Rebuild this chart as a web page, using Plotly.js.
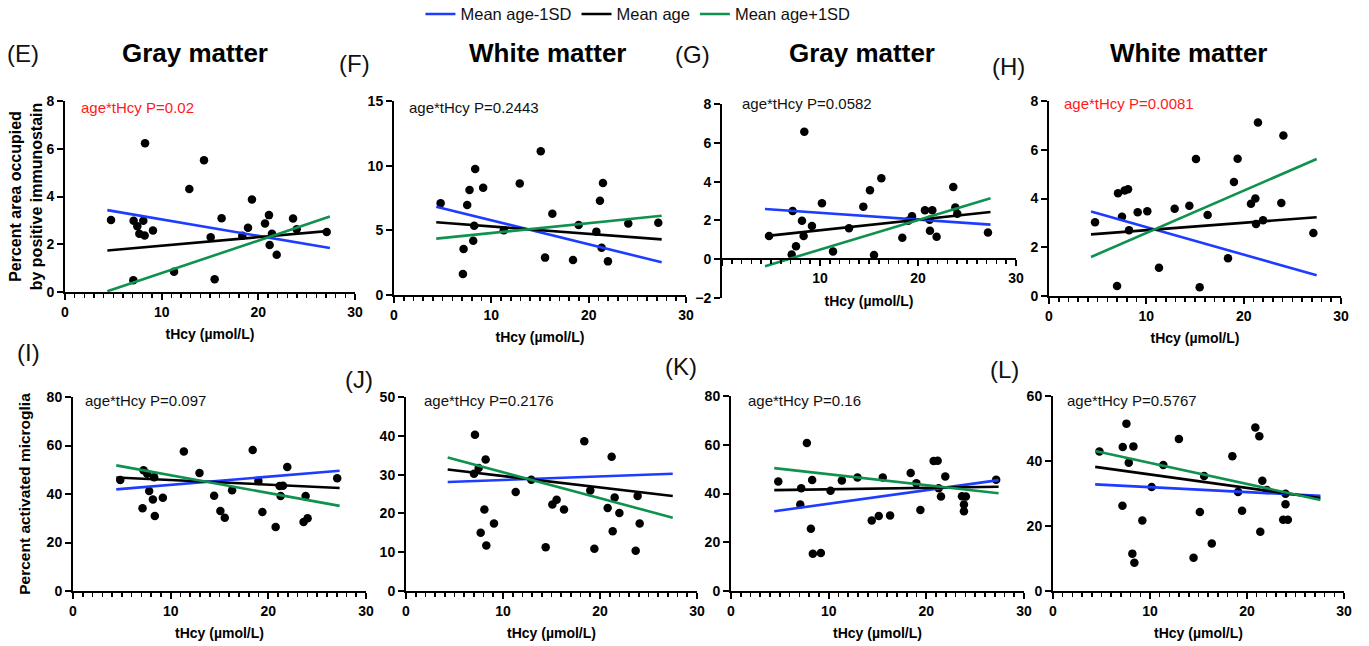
<!DOCTYPE html>
<html><head><meta charset="utf-8">
<script src="https://cdn.plot.ly/plotly-3.0.1.min.js"></script>
<style>html,body{margin:0;padding:0;background:#fff}#chart{width:1369px;height:646px}</style>
</head><body><div id="chart"></div>
<script>
// ================= DATA =================
const seriesNames = ['Mean age-1SD', 'Mean age', 'Mean age+1SD'];
const panelLetters = ['(E)', '(F)', '(G)', '(H)', '(I)', '(J)', '(K)', '(L)'];
const panelTitles = ['Gray matter', 'White matter', 'Gray matter', 'White matter'];
const pValues = ['0.02', '0.2443', '0.0582', '0.0081', '0.097', '0.2176', '0.16', '0.5767'];
const xTitle = 'tHcy (µmol/L)';
const yTitleTop = 'Percent area occupied<br>by positive immunostain';
const yTitleBottom = 'Percent activated microglia';
const xTickVals = [0, 10, 20, 30];
const xTickText = ['0', '10', '20', '30'];

// (E) Gray matter
const E_x = [4.76,7.07,7.1,7.48,7.69,8.1,8.28,8.24,9.1,11.28,12.86,14.38,15.07,15.48,16.2,18.34,18.93,19.34,20.69,21.1,21.41,21.17,21.9,23.59,23.97,27.07];
const E_y = [3.02,0.49,2.98,2.75,2.44,2.98,6.23,2.37,2.58,0.85,4.31,5.52,2.29,0.53,3.09,2.36,2.69,3.87,2.87,3.22,2.44,1.97,1.56,3.08,2.63,2.51];
const E_lineX = [4.38, 27.4];
const E_minus = [3.43, 1.84];
const E_mean = [1.74, 2.56];
const E_plus = [0.03, 3.16];

// (F) White matter
const F_x = [4.79,7.08,7.15,7.52,7.76,8.14,8.24,8.34,9.16,11.28,12.92,15.08,15.52,16.27,18.39,18.97,20.79,21.16,21.33,21.47,21.98,24.07,27.15];
const F_y = [7.09,1.62,3.56,6.96,8.12,4.2,5.36,9.74,8.3,5.0,8.63,11.11,2.89,6.29,2.71,5.41,4.9,7.29,3.66,8.66,2.6,5.52,5.59];
const F_lineX = [4.34, 27.5];
const F_minus = [6.83, 2.53];
const F_mean = [5.62, 4.3];
const F_plus = [4.36, 6.13];

// (G) Gray matter
const G_x = [4.8,7.11,7.21,7.55,8.16,8.33,8.4,9.18,10.2,11.33,12.96,14.42,15.1,15.51,16.26,18.4,19.01,19.39,20.71,21.19,21.22,21.46,21.9,23.6,23.81,24.01,27.14];
const G_y = [1.19,0.24,2.48,0.67,1.98,1.19,6.57,1.71,2.88,0.4,1.59,2.71,3.55,0.22,4.17,1.1,1.98,2.22,2.52,2.03,1.47,2.52,1.16,3.72,2.66,2.34,1.38];
const G_lineX = [4.39, 27.4];
const G_minus = [2.59, 1.78];
const G_mean = [1.19, 2.43];
const G_plus = [-0.36, 3.14];

// (H) White matter
const H_x = [4.73,6.99,7.09,7.5,7.77,8.12,8.22,9.11,10.1,11.3,12.91,14.42,15.1,15.48,16.3,18.39,19.0,19.38,20.75,21.2,21.27,21.47,21.99,23.87,24.08,27.16];
const H_y = [3.03,0.41,4.22,3.25,4.33,4.38,2.70,3.44,3.48,1.16,3.58,3.70,5.62,0.36,3.32,1.55,4.68,5.63,3.78,4.0,2.95,7.12,3.11,3.82,6.58,2.58];
const H_lineX = [4.32, 27.5];
const H_minus = [3.47, 0.85];
const H_mean = [2.53, 3.23];
const H_plus = [1.6, 5.62];

// (I) Gray matter microglia
const I_x = [4.84,7.12,7.22,7.6,7.8,8.18,8.31,8.38,9.2,11.35,12.95,14.45,15.09,15.54,16.29,18.4,18.98,19.39,20.75,21.16,21.26,21.5,21.94,23.61,23.82,24.02,27.05];
const I_y = [45.8,34.1,49.8,48.4,41.2,37.7,46.9,30.9,38.5,57.5,48.7,39.3,33.0,30.2,41.5,58.1,45.4,32.6,26.4,43.3,39.2,43.4,51.1,28.5,39.2,30.0,46.5];
const I_lineX = [4.43, 27.3];
const I_minus = [41.9, 49.6];
const I_mean = [46.8, 42.5];
const I_plus = [51.8, 35.1];

// (J) White matter microglia
const J_x = [7.11,7.01,7.49,7.7,8.08,8.21,8.28,9.07,11.31,12.92,14.4,15.09,15.53,16.29,18.38,19.0,19.42,20.79,21.2,21.31,21.51,22.0,23.68,23.88,24.09];
const J_y = [40.3,30.2,31.7,15.0,21.0,33.9,11.7,17.4,25.5,28.7,11.3,22.3,23.5,21.0,38.6,25.9,10.9,21.4,34.6,15.4,24.1,20.1,10.4,24.5,17.4];
const J_lineX = [4.3, 27.5];
const J_minus = [28.1, 30.2];
const J_mean = [31.3, 24.5];
const J_plus = [34.4, 18.9];

// (K) Gray matter microglia
const K_x = [4.84,7.09,7.19,7.77,8.18,8.31,8.38,9.2,10.19,11.35,12.95,14.41,15.13,15.54,16.29,18.4,18.98,19.39,20.75,21.16,21.26,21.5,21.94,23.65,24.05,23.85,23.85,27.15];
const K_y = [44.9,35.5,42.2,60.7,25.5,45.5,15.3,15.6,41.1,45.3,46.6,28.9,30.8,46.6,31.0,48.4,44.2,33.2,53.3,53.4,42.2,38.8,47.0,38.9,38.8,35.5,32.7,45.6];
const K_lineX = [4.43, 27.4];
const K_minus = [32.7, 45.5];
const K_mean = [41.4, 42.8];
const K_plus = [50.4, 40.1];

// (L) White matter microglia
const L_x = [4.79,7.16,7.19,7.57,7.81,8.18,8.29,8.39,9.21,10.17,11.37,12.98,14.49,15.14,15.58,16.37,18.49,19.08,19.49,20.86,21.27,21.37,21.58,22.05,23.73,23.97,23.97,24.21];
const L_y = [42.9,26.2,44.3,51.5,39.5,11.5,44.5,8.7,21.7,32.0,38.8,46.8,10.2,24.3,35.4,14.6,41.5,30.5,24.7,50.3,47.6,18.2,33.9,31.1,21.9,26.7,29.9,21.9];
const L_lineX = [4.35, 27.57];
const L_minus = [32.8, 29.3];
const L_mean = [38.2, 28.6];
const L_plus = [43.1, 28.0];

// y-axis ranges / tick steps
const yRanges = [[0,8],[0,15],[-2,8],[0,8],[0,80],[0,50],[0,80],[0,60]];
const yDticks = [2, 5, 2, 2, 20, 10, 20, 20];

// ================= LAYOUT / STYLE =================
const W = 1369, H = 646;
const FONT = 'Liberation Sans, Arial, Helvetica, sans-serif';
const COLORS = ['#1e3cff', '#000000', '#0f9150'];
const pxX = p => p / W;
const pxY = p => 1 - p / H;

// plot boxes in px: [left(x=0), right(x=30), top(ymax), bottom(ymin)]
const boxes = [
  [65, 355, 101, 292],
  [394, 686, 101, 295],
  [722, 1016, 104, 298],
  [1049, 1341, 101, 296],
  [73, 366, 397, 591],
  [406, 697, 397, 591],
  [731, 1024, 396, 591],
  [1053, 1344, 396, 591]
];
const titlePos = [[195, 53], [547, 53], [862, 53], [1188, 53]];
const letterPos = [[5, 53], [337, 63], [673, 55], [990, 67], [15, 352], [343, 379], [663, 366], [988, 369]];
const pPos = [[79, 107], [407, 107], [740, 103], [1062, 104], [83, 401], [422, 401], [746, 401], [1065, 401]];
const pColors = ['#ff1a1a', '#111', '#111', '#ff1a1a', '#111', '#111', '#111', '#111'];

const panels = [
  [E_x, E_y, E_lineX, E_minus, E_mean, E_plus],
  [F_x, F_y, F_lineX, F_minus, F_mean, F_plus],
  [G_x, G_y, G_lineX, G_minus, G_mean, G_plus],
  [H_x, H_y, H_lineX, H_minus, H_mean, H_plus],
  [I_x, I_y, I_lineX, I_minus, I_mean, I_plus],
  [J_x, J_y, J_lineX, J_minus, J_mean, J_plus],
  [K_x, K_y, K_lineX, K_minus, K_mean, K_plus],
  [L_x, L_y, L_lineX, L_minus, L_mean, L_plus]
];

const traces = [];
const layout = {
  width: W, height: H,
  margin: {l: 0, r: 0, t: 0, b: 0, autoexpand: false},
  paper_bgcolor: '#fff', plot_bgcolor: 'rgba(0,0,0,0)',
  font: {family: FONT, color: '#000'},
  showlegend: true,
  legend: {orientation: 'h', x: 0.466, xanchor: 'center', y: 1.005, yanchor: 'top',
           font: {family: FONT, size: 16.5, color: '#111'}, itemwidth: 30, tracegroupgap: 0},
  annotations: []
};

panels.forEach((p, i) => {
  const n = i + 1;
  const xa = 'x' + (n === 1 ? '' : n), ya = 'y' + (n === 1 ? '' : n);
  const xKey = 'xaxis' + (n === 1 ? '' : n), yKey = 'yaxis' + (n === 1 ? '' : n);
  const b = boxes[i];
  traces.push({x: p[0], y: p[1], xaxis: xa, yaxis: ya, type: 'scatter', mode: 'markers',
    marker: {color: '#000', size: 8.5}, showlegend: false, hoverinfo: 'skip'});
  [p[3], p[4], p[5]].forEach((ys, k) => {
    traces.push({x: p[2], y: ys, xaxis: xa, yaxis: ya, type: 'scatter', mode: 'lines',
      name: seriesNames[k], line: {color: COLORS[k], width: 2.6}, showlegend: i === 0, hoverinfo: 'skip'});
  });
  const yr = yRanges[i];
  const isG = i === 2;
  const zeroPx = b[3] - (0 - yr[0]) / (yr[1] - yr[0]) * (b[3] - b[2]);
  const xaxis = {
    domain: [pxX(b[0]), pxX(b[1])], range: [0, 30], anchor: isG ? 'free' : ya,
    showline: true, linecolor: '#000', linewidth: 2, showgrid: false, zeroline: false,
    tickmode: 'array', tickvals: xTickVals, ticktext: isG ? ['', '10', '20', '30'] : xTickText,
    ticks: 'outside', ticklen: 6, tickwidth: 2, tickcolor: '#000',
    minor: {tickmode: 'linear', tick0: 0, dtick: 1, ticks: 'outside', ticklen: 3.5, tickwidth: 1.6, tickcolor: '#000', showgrid: false},
    tickfont: {family: FONT, size: 14, weight: 'bold', color: '#000'},
    fixedrange: true
  };
  if (isG) xaxis.position = pxY(zeroPx);
  xaxis.title = {text: xTitle, font: {family: FONT, size: 14, weight: 'bold', color: '#000'}, standoff: 10};
  layout[xKey] = xaxis;
  const yaxis = {
    domain: [pxY(b[3]), pxY(b[2])], range: yr, anchor: xa,
    showline: true, linecolor: '#000', linewidth: 2, showgrid: false, zeroline: false,
    tickmode: 'linear', tick0: 0, dtick: yDticks[i],
    ticks: 'outside', ticklen: 6, tickwidth: 2, tickcolor: '#000',
    tickfont: {family: FONT, size: 14, weight: 'bold', color: '#000'},
    fixedrange: true
  };
  if (i === 0) yaxis.title = {text: yTitleTop, font: {family: FONT, size: 16, weight: 'bold', color: '#000'}, standoff: 0};
  if (i === 4) yaxis.title = {text: yTitleBottom, font: {family: FONT, size: 15.5, weight: 'bold', color: '#000'}, standoff: 12};
  layout[yKey] = yaxis;

  layout.annotations.push({xref: 'paper', yref: 'paper', x: pxX(letterPos[i][0]), y: pxY(letterPos[i][1]),
    xanchor: 'left', yanchor: 'middle', showarrow: false, text: panelLetters[i],
    font: {family: FONT, size: 24, color: '#111'}});
  layout.annotations.push({xref: 'paper', yref: 'paper', x: pxX(pPos[i][0]), y: pxY(pPos[i][1]),
    xanchor: 'left', yanchor: 'middle', showarrow: false, text: 'age*tHcy P=' + pValues[i],
    font: {family: FONT, size: 15, color: pColors[i]}});
  if (i < 4) {
    layout.annotations.push({xref: 'paper', yref: 'paper', x: pxX(titlePos[i][0]), y: pxY(titlePos[i][1]),
      xanchor: 'center', yanchor: 'middle', showarrow: false, text: panelTitles[i],
      font: {family: FONT, size: 26, weight: 'bold', color: '#000'}});
  }
});

Plotly.newPlot('chart', traces, layout, {displayModeBar: false, staticPlot: true});
</script></body></html>
